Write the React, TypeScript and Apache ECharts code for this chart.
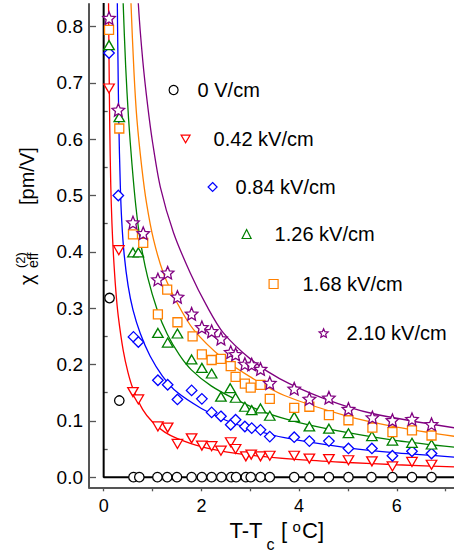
import React, { useEffect, useRef } from 'react';
import * as echarts from 'echarts';

// ---------- data ----------
const X_TICKS = [0, 1, 2, 3, 4, 5, 6, 7];
const X_LABELS = [0, 2, 4, 6];
const Y_LABELS = [0, 0.1, 0.2, 0.3, 0.4, 0.5, 0.6, 0.7, 0.8];
const Y_MINOR = [0.05, 0.15, 0.25, 0.35, 0.45, 0.55, 0.65, 0.75];

const NAMES = ['0 V/cm', '0.42 kV/cm', '0.84 kV/cm', '1.26 kV/cm', '1.68 kV/cm', '2.10 kV/cm'];
const COLORS = ['#000000', '#ff0000', '#0000ff', '#008000', '#ff8000', '#800080'];

const PTS_0: [number, number][] = [
  [0.12, 0.318], [0.32, 0.136], [0.61, 0], [0.73, 0], [1.1, 0], [1.3, 0], [1.5, 0], [1.8, 0],
  [2.01, 0], [2.21, 0], [2.41, 0], [2.61, 0], [2.71, 0], [2.91, 0], [3.01, 0], [3.21, 0], [3.4, 0],
  [3.9, 0], [4.21, 0], [4.61, 0], [5.01, 0], [5.48, 0], [5.91, 0], [6.31, 0], [6.71, 0],
];
const PTS_042: [number, number][] = [
  [0.11, 0.69], [0.31, 0.403], [0.6, 0.151], [0.71, 0.138], [1.11, 0.09], [1.31, 0.088], [1.51, 0.059],
  [1.8, 0.069], [2.01, 0.056], [2.21, 0.055], [2.4, 0.047], [2.6, 0.062], [2.7, 0.05], [2.91, 0.037],
  [3.02, 0.04], [3.21, 0.037], [3.4, 0.038], [3.9, 0.038], [4.21, 0.033], [4.61, 0.032], [5.01, 0.03],
  [5.49, 0.028], [5.91, 0.019], [6.31, 0.027], [6.71, 0.022],
];
const PTS_084: [number, number][] = [
  [0.11, 0.753], [0.3, 0.5], [0.61, 0.249], [0.71, 0.24], [1.11, 0.172], [1.31, 0.164], [1.51, 0.138],
  [1.8, 0.154], [2.01, 0.139], [2.21, 0.115], [2.4, 0.108], [2.6, 0.093], [2.7, 0.102], [2.89, 0.09],
  [3.03, 0.087], [3.21, 0.084], [3.4, 0.072], [3.9, 0.071], [4.21, 0.064], [4.61, 0.064], [5.01, 0.051],
  [5.49, 0.051], [5.91, 0.038], [6.31, 0.046], [6.71, 0.042],
];
const PTS_126: [number, number][] = [
  [0.11, 0.767], [0.32, 0.639], [0.6, 0.399], [0.71, 0.399], [1.11, 0.256], [1.31, 0.239], [1.51, 0.255],
  [1.8, 0.209], [2.01, 0.194], [2.21, 0.184], [2.4, 0.143], [2.59, 0.158], [2.7, 0.141], [2.89, 0.125],
  [3.03, 0.119], [3.21, 0.122], [3.4, 0.109], [3.9, 0.107], [4.21, 0.09], [4.61, 0.086], [5.01, 0.078],
  [5.49, 0.073], [5.91, 0.065], [6.31, 0.061], [6.71, 0.058],
];
const PTS_168: [number, number][] = [
  [0.11, 0.794], [0.32, 0.619], [0.6, 0.431], [0.81, 0.416], [1.11, 0.289], [1.3, 0.333], [1.51, 0.275],
  [1.82, 0.25], [2.01, 0.218], [2.21, 0.208], [2.4, 0.21], [2.6, 0.197], [2.7, 0.178], [2.89, 0.166],
  [3.01, 0.159], [3.21, 0.164], [3.4, 0.139], [3.9, 0.123], [4.21, 0.125], [4.61, 0.11], [5.01, 0.101],
  [5.5, 0.088], [5.91, 0.08], [6.31, 0.083], [6.71, 0.074],
];
const PTS_210: [number, number][] = [
  [0.11, 0.815], [0.3, 0.652], [0.6, 0.452], [0.81, 0.433], [1.11, 0.351], [1.31, 0.363], [1.51, 0.32],
  [1.8, 0.29], [2.01, 0.266], [2.21, 0.259], [2.4, 0.246], [2.6, 0.222], [2.7, 0.218], [2.89, 0.201],
  [3.03, 0.2], [3.21, 0.192], [3.4, 0.167], [3.9, 0.157], [4.21, 0.139], [4.61, 0.141], [5.01, 0.121],
  [5.5, 0.106], [5.91, 0.101], [6.31, 0.103], [6.71, 0.094],
];

// fitted curves
const FIT_0: [number, number][] = [[0, 0.9], [0, 0], [7.3, 0]];
const FIT_042: [number, number][] = [
  [0.095, 0.9], [0.1, 0.84], [0.11, 0.74], [0.125, 0.62], [0.145, 0.52], [0.17, 0.45], [0.2, 0.395],
  [0.25, 0.33], [0.3, 0.285], [0.4, 0.225], [0.5, 0.185], [0.6, 0.157], [0.8, 0.12], [1.0, 0.098],
  [1.25, 0.08], [1.5, 0.069], [2.0, 0.054], [2.5, 0.045], [3.0, 0.039], [4.0, 0.031], [5.0, 0.026],
  [6.0, 0.022], [7.3, 0.018],
];
const FIT_084: [number, number][] = [
  [0.275, 0.9], [0.28, 0.84], [0.29, 0.76], [0.31, 0.63], [0.34, 0.52], [0.37, 0.455], [0.42, 0.395],
  [0.5, 0.34], [0.6, 0.297], [0.75, 0.255], [0.95, 0.215], [1.2, 0.18], [1.5, 0.151], [2.0, 0.122],
  [2.5, 0.101], [3.0, 0.086], [3.7, 0.07], [5.0, 0.052], [6.0, 0.043], [7.3, 0.035],
];
const FIT_126: [number, number][] = [
  [0.38, 0.9], [0.4, 0.84], [0.45, 0.73], [0.51, 0.636], [0.58, 0.555], [0.66, 0.48], [0.75, 0.42],
  [0.9, 0.355], [1.1, 0.296], [1.3, 0.254], [1.55, 0.217], [1.8, 0.19], [2.2, 0.162], [2.7, 0.138],
  [3.3, 0.115], [4.0, 0.097], [5.0, 0.079], [6.0, 0.065], [7.3, 0.052],
];
const FIT_168: [number, number][] = [
  [0.54, 0.9], [0.56, 0.84], [0.62, 0.72], [0.68, 0.636], [0.78, 0.55], [0.88, 0.485], [1.02, 0.422],
  [1.22, 0.363], [1.5, 0.31], [1.84, 0.262], [2.45, 0.21], [3.0, 0.178], [3.7, 0.145], [5.0, 0.108],
  [6.0, 0.089], [7.3, 0.071],
];
const FIT_210: [number, number][] = [
  [0.69, 0.9], [0.71, 0.84], [0.8, 0.74], [0.9, 0.66], [1.0, 0.595], [1.16, 0.515], [1.43, 0.434],
  [1.77, 0.363], [2.11, 0.304], [2.45, 0.256], [3.0, 0.21], [3.6, 0.175], [4.5, 0.14], [5.5, 0.113],
  [7.3, 0.086],
];

const POINTS = [PTS_0, PTS_042, PTS_084, PTS_126, PTS_168, PTS_210];
const FITS = [FIT_0, FIT_042, FIT_084, FIT_126, FIT_168, FIT_210];

// ---------- styling ----------
const FONT = '"Liberation Sans", Arial, sans-serif';
const STAR =
  'path://M0,-1L0.27,-0.37L0.951,-0.309L0.44,0.143L0.588,0.809L0,0.46L-0.588,0.809L-0.44,0.143L-0.951,-0.309L-0.27,-0.37Z';
const TRI_DOWN = 'path://M0,0L2,0L1,1.732Z';
const SYMBOLS = ['circle', TRI_DOWN, 'diamond', 'triangle', 'rect', STAR];
const SYMBOL_SIZES: (number | number[])[] = [9.5, [10.5, 9], 10.5, [10.5, 9], 9, 12.5];
const LEGEND_POS = [
  { left: 168.5, top: 80, pad: 14.5 },
  { left: 180.5, top: 129, pad: 18.5 },
  { left: 207.5, top: 177, pad: 13.5 },
  { left: 241.5, top: 224, pad: 18.5 },
  { left: 268.5, top: 274, pad: 19.5 },
  { left: 318.5, top: 323, pad: 13.5 },
];

export default function App() {
  const ref = useRef<HTMLDivElement>(null);
  useEffect(() => {
    if (!ref.current) return;
    const chart = echarts.init(ref.current, undefined, { renderer: 'svg' });
    const axisColor = '#555555';
    const fitSeries = FITS.map((d, i) => ({
      type: 'line',
      name: 'fit' + i,
      data: d,
      showSymbol: false,
      symbol: 'none',
      smooth: i === 0 ? false : 0.3,
      lineStyle: { color: COLORS[i], width: i === 0 ? 2 : 1.3 },
      silent: true,
      z: 2,
    }));
    const ptSeries = POINTS.map((d, i) => ({
      type: 'scatter',
      name: NAMES[i],
      data: d,
      symbol: SYMBOLS[i],
      symbolSize: SYMBOL_SIZES[i],
      itemStyle: { color: '#ffffff', borderColor: COLORS[i], borderWidth: 1.3, opacity: 1 },
      z: 3,
    }));
    const txt = (text: string, x: number, y: number, size: number) => ({
      type: 'text',
      x,
      y,
      style: { text, fontSize: size, fontFamily: FONT, fill: '#000', align: 'left', verticalAlign: 'middle' },
    });
    chart.setOption({
      animation: false,
      backgroundColor: '#ffffff',
      grid: { left: 89, right: 0, top: 4, bottom: 66.7 },
      xAxis: {
        type: 'value',
        min: -0.3,
        max: 7.17,
        axisLine: { show: true, onZero: false, lineStyle: { color: axisColor, width: 2 } },
        axisTick: { show: true, inside: false, length: 4, customValues: X_TICKS, lineStyle: { color: axisColor, width: 1.3 } },
        axisLabel: {
          customValues: X_LABELS,
          fontSize: 18,
          color: '#000',
          fontFamily: FONT,
          margin: 10,
        },
        splitLine: { show: false },
      },
      yAxis: [
        {
          type: 'value',
          min: -0.018,
          max: 0.84,
          axisLine: { show: true, onZero: false, lineStyle: { color: axisColor, width: 2 } },
          axisTick: { show: true, inside: true, length: 7, customValues: Y_LABELS, lineStyle: { color: axisColor, width: 1.3 } },
          axisLabel: {
            customValues: Y_LABELS,
            formatter: (v: number) => v.toFixed(1),
            fontSize: 19,
            color: '#000',
            fontFamily: FONT,
            margin: 6,
          },
          splitLine: { show: false },
        },
        {
          type: 'value',
          min: -0.018,
          max: 0.84,
          position: 'left',
          axisLine: { show: false },
          axisTick: { show: true, inside: true, length: 4, customValues: Y_MINOR, lineStyle: { color: axisColor, width: 1.3 } },
          axisLabel: { show: false },
          splitLine: { show: false },
        },
      ],
      legend: NAMES.map((n, i) => ({
        data: [
          {
            name: n,
            icon: SYMBOLS[i],
            itemStyle: { color: '#ffffff', borderColor: COLORS[i], borderWidth: 1.2 },
          },
        ],
        left: LEGEND_POS[i].left,
        top: LEGEND_POS[i].top,
        padding: 0,
        itemWidth: 9,
        itemHeight: 9,
        selectedMode: false,
        formatter: '{t|{name}}',
        textStyle: {
          fontSize: 20,
          color: '#000',
          fontFamily: FONT,
          rich: { t: { fontSize: 20, color: '#000', fontFamily: FONT, padding: [0, 0, 0, LEGEND_POS[i].pad] } },
        },
      })),
      graphic: [
        txt('T-T', 229.5, 530.5, 22),
        txt('c', 266.5, 544.5, 16),
        txt('[', 281, 530.5, 22),
        txt('o', 292.5, 526.2, 15),
        txt('C]', 302, 530.5, 22),
        {
          type: 'group',
          x: 27,
          y: 287,
          rotation: Math.PI / 2,
          children: [
            txt('χ', 2, 0, 20),
            txt('(2)', 19, -7, 13),
            txt('eff', 19, 6, 14),
            txt('[pm/V]', 82, 0, 20),
          ],
        },
      ],
      series: [...fitSeries, ...ptSeries],
    });
    return () => chart.dispose();
  }, []);
  return <div ref={ref} style={{ position: 'fixed', left: 0, top: 0, width: 454, height: 554 }} />;
}
